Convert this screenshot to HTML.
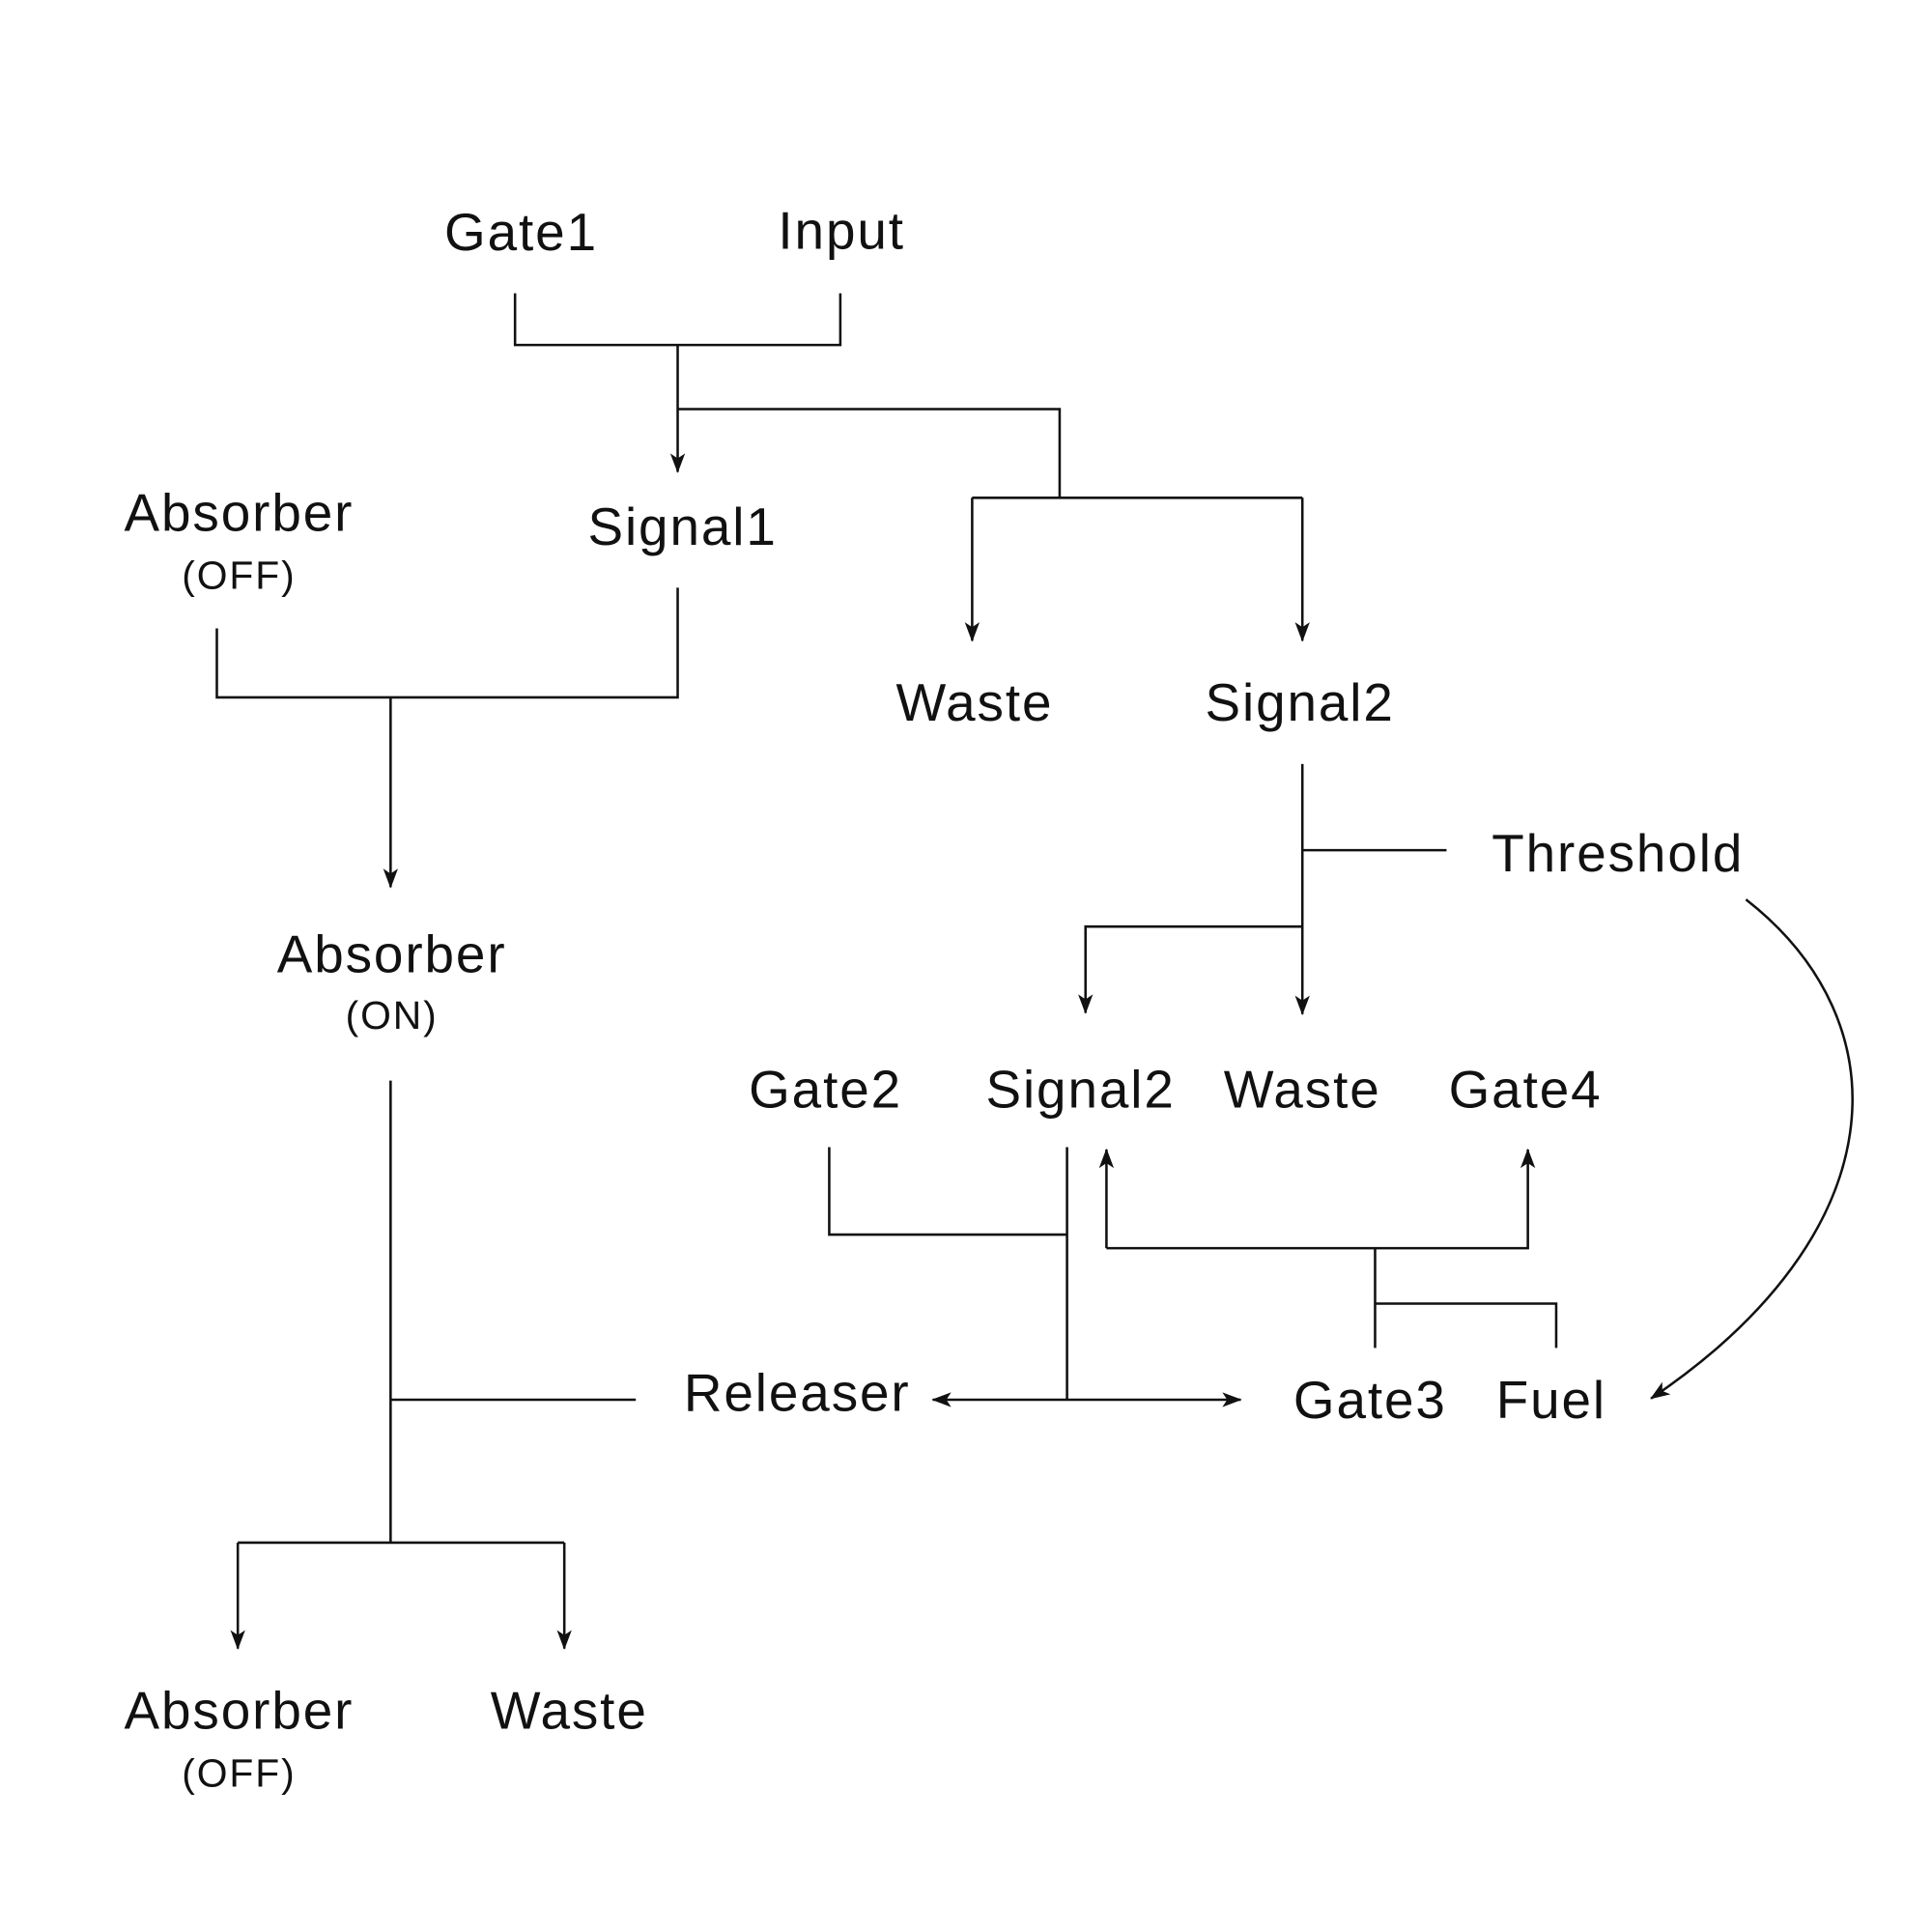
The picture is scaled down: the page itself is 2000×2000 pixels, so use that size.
<!DOCTYPE html>
<html><head><meta charset="utf-8"><style>
html,body{margin:0;padding:0;background:#fff;width:2000px;height:2000px;overflow:hidden}
svg{display:block}
text{font-family:"Liberation Sans",sans-serif;fill:#111;text-anchor:middle;letter-spacing:1.5px}
.m{font-size:43px}.s{font-size:32px}
</style></head><body>
<svg width="2000" height="2000" viewBox="0 0 1568 1568" xmlns="http://www.w3.org/2000/svg">
<defs>
<marker id="a" viewBox="0 0 16 12" refX="15" refY="6" markerWidth="16" markerHeight="12" markerUnits="userSpaceOnUse" orient="auto-start-reverse">
<path d="M0,0 L16,6 L0,12 L4,6 Z" fill="#111"/></marker>
</defs>
<g fill="none" stroke="#111" stroke-width="2">
<path d="M418,238 V280 H682 V238"/>
<path d="M550,280 V383" marker-end="url(#a)"/>
<path d="M550,332 H860 V404"/>
<path d="M789,404 H1057"/>
<path d="M789,404 V520" marker-end="url(#a)"/>
<path d="M1057,404 V520" marker-end="url(#a)"/>
<path d="M176,510 V566 H550 V477"/>
<path d="M317,566 V720" marker-end="url(#a)"/>
<path d="M1057,620 V823" marker-end="url(#a)"/>
<path d="M1057,690 H1174"/>
<path d="M1057,752 H881 V822" marker-end="url(#a)"/>
<path d="M317,877 V1252"/>
<path d="M317,1136 H516"/>
<path d="M193,1252 H458"/>
<path d="M193,1252 V1338" marker-end="url(#a)"/>
<path d="M458,1252 V1338" marker-end="url(#a)"/>
<path d="M673,931 V1002 H866"/>
<path d="M866,931 V1136"/>
<path d="M757,1136 H1007" marker-start="url(#a)" marker-end="url(#a)"/>
<path d="M898,1013 V933" marker-end="url(#a)"/>
<path d="M898,1013 H1240 V933" marker-end="url(#a)"/>
<path d="M1116,1013 V1094"/>
<path d="M1116,1058 H1263 V1094"/>
<path d="M1417,730 C1545,830 1540,1000 1340,1135" marker-end="url(#a)"/>
</g>
<text class="m" x="423" y="203">Gate1</text>
<text class="m" x="683" y="202">Input</text>
<text class="m" x="194" y="431">Absorber</text>
<text class="s" x="194" y="478">(OFF)</text>
<text class="m" x="554" y="442">Signal1</text>
<text class="m" x="791" y="585">Waste</text>
<text class="m" x="1055" y="585">Signal2</text>
<text class="m" x="1313" y="707">Threshold</text>
<text class="m" x="318" y="789">Absorber</text>
<text class="s" x="318" y="835">(ON)</text>
<text class="m" x="670" y="899">Gate2</text>
<text class="m" x="877" y="899">Signal2</text>
<text class="m" x="1057" y="899">Waste</text>
<text class="m" x="1238" y="899">Gate4</text>
<text class="m" x="647" y="1145">Releaser</text>
<text class="m" x="1112" y="1151">Gate3</text>
<text class="m" x="1259" y="1151">Fuel</text>
<text class="m" x="194" y="1403">Absorber</text>
<text class="s" x="194" y="1450">(OFF)</text>
<text class="m" x="462" y="1403">Waste</text>
</svg>
</body></html>
